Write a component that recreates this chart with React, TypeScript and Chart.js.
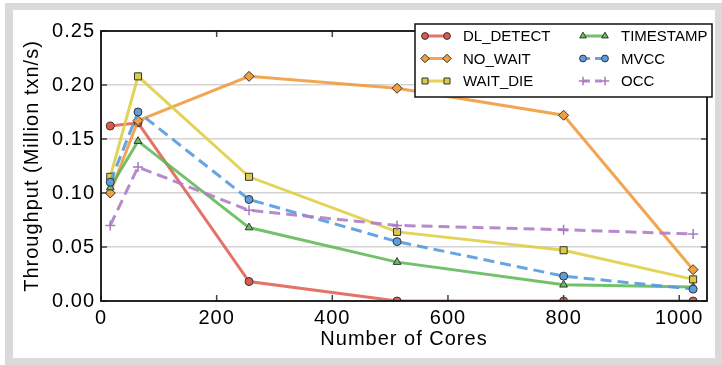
import React, { useEffect, useRef } from 'react';
import { Chart, registerables } from 'chart.js';

Chart.register(...registerables);

// ---- data ----
const cores = [16, 64, 256, 512, 800, 1024];
const dlDetect = [0.162, 0.165, 0.018, 0.0, 0.0, 0.0];
const noWait = [0.100, 0.167, 0.208, 0.197, 0.172, 0.029];
const waitDie = [0.115, 0.208, 0.115, 0.064, 0.047, 0.020];
const timestamp = [0.105, 0.148, 0.068, 0.036, 0.015, 0.013];
const mvcc = [0.110, 0.175, 0.094, 0.055, 0.023, 0.011];
const occ = [0.070, 0.124, 0.084, 0.070, 0.066, 0.062];
const xTicks = [0, 200, 400, 600, 800, 1000];
const yTicks = [0, 0.05, 0.1, 0.15, 0.2, 0.25];
const xTitle = 'Number of Cores';
const yTitle = 'Throughput (Million txn/s)';

const series = [
  { label: 'DL_DETECT', data: dlDetect, line: 'rgba(224,80,68,0.8)', fill: '#e0584c', style: 'circle', r: 4, dash: [] as number[] },
  { label: 'NO_WAIT', data: noWait, line: 'rgba(240,150,50,0.85)', fill: '#f0a040', style: 'rectRot', r: 5, dash: [] as number[] },
  { label: 'WAIT_DIE', data: waitDie, line: 'rgba(222,204,60,0.85)', fill: '#dccb48', style: 'rect', r: 5, dash: [] as number[] },
  { label: 'TIMESTAMP', data: timestamp, line: 'rgba(92,182,82,0.85)', fill: '#6cbf5c', style: 'triangle', r: 4.5, dash: [] as number[] },
  { label: 'MVCC', data: mvcc, line: 'rgba(85,155,222,0.9)', fill: '#5b9ee0', style: 'circle', r: 4, dash: [11, 6] },
  { label: 'OCC', data: occ, line: 'rgba(175,125,198,0.9)', fill: '#a878c0', style: 'cross', r: 5, dash: [11, 6] },
];

function drawMarker(ctx: CanvasRenderingContext2D, style: string, x: number, y: number, r: number, fill: string, stroke: string) {
  ctx.save();
  ctx.setLineDash([]);
  ctx.beginPath();
  if (style === 'circle') {
    ctx.arc(x, y, r, 0, Math.PI * 2);
  } else if (style === 'rect') {
    const s = Math.SQRT1_2 * r;
    ctx.rect(x - s, y - s, 2 * s, 2 * s);
  } else if (style === 'rectRot') {
    ctx.moveTo(x, y - r);
    ctx.lineTo(x + r, y);
    ctx.lineTo(x, y + r);
    ctx.lineTo(x - r, y);
    ctx.closePath();
  } else if (style === 'triangle') {
    const h = r * 1.5;
    ctx.moveTo(x, y - r);
    ctx.lineTo(x + r * 0.866, y + r * 0.5);
    ctx.lineTo(x - r * 0.866, y + r * 0.5);
    ctx.closePath();
  } else if (style === 'cross') {
    ctx.moveTo(x - r, y);
    ctx.lineTo(x + r, y);
    ctx.moveTo(x, y - r);
    ctx.lineTo(x, y + r);
    ctx.strokeStyle = fill;
    ctx.lineWidth = 1.5;
    ctx.stroke();
    ctx.restore();
    return;
  }
  ctx.fillStyle = fill;
  ctx.fill();
  ctx.strokeStyle = stroke;
  ctx.lineWidth = 1;
  ctx.stroke();
  ctx.restore();
}

const FONT = '"Liberation Sans", Arial, Helvetica, sans-serif';

const framePlugin = {
  id: 'frameTicks',
  beforeDraw(chart: any) {
    (chart.ctx as any).letterSpacing = '1px';
  },
  afterDatasetsDraw(chart: any) {
    const { ctx, chartArea: ca, scales } = chart;
    ctx.save();
    (ctx as any).letterSpacing = '0px';
    ctx.setLineDash([]);
    ctx.strokeStyle = '#444';
    ctx.lineWidth = 1.5;
    ctx.beginPath();
    xTicks.forEach((v) => {
      const px = scales.x.getPixelForValue(v);
      ctx.moveTo(px, ca.bottom);
      ctx.lineTo(px, ca.bottom - 6);
      ctx.moveTo(px, ca.top);
      ctx.lineTo(px, ca.top + 6);
    });
    yTicks.forEach((v) => {
      const py = scales.y.getPixelForValue(v);
      ctx.moveTo(ca.left, py);
      ctx.lineTo(ca.left + 6, py);
      ctx.moveTo(ca.right, py);
      ctx.lineTo(ca.right - 6, py);
    });
    ctx.stroke();
    ctx.strokeStyle = '#111';
    ctx.lineWidth = 1.8;
    ctx.strokeRect(ca.left, ca.top, ca.right - ca.left, ca.bottom - ca.top);
    ctx.restore();
  },
  afterDraw(chart: any) {
    const { ctx, chartArea: ca } = chart;
    ctx.save();
    (ctx as any).letterSpacing = '0px';
    const left = ca.right - 292;
    const top = ca.top - 7;
    const right = ca.right + 5;
    const bottom = ca.top + 66;
    ctx.fillStyle = '#fff';
    ctx.fillRect(left, top, right - left, bottom - top);
    ctx.strokeStyle = '#111';
    ctx.lineWidth = 1.5;
    ctx.strokeRect(left, top, right - left, bottom - top);
    series.forEach((s, i) => {
      const col = Math.floor(i / 3);
      const row = i % 3;
      const y = top + 12 + row * 22.5;
      const x0 = left + 10 + col * 158;
      ctx.save();
      ctx.strokeStyle = s.line;
      ctx.lineWidth = 3;
      ctx.setLineDash(s.dash.length ? [7, 5] : []);
      ctx.beginPath();
      ctx.moveTo(x0, y);
      ctx.lineTo(x0 + 22, y);
      ctx.stroke();
      ctx.restore();
      drawMarker(ctx, s.style, x0, y, s.r * 0.85, s.fill, '#333');
      drawMarker(ctx, s.style, x0 + 22, y, s.r * 0.85, s.fill, '#333');
      ctx.fillStyle = '#000';
      ctx.font = `15px ${FONT}`;
      ctx.textBaseline = 'middle';
      ctx.textAlign = 'left';
      ctx.fillText(s.label, x0 + 38, y + 1);
    });
    ctx.restore();
  },
};

export default function App() {
  const ref = useRef<HTMLCanvasElement | null>(null);

  useEffect(() => {
    if (!ref.current) return;
    const chart = new Chart(ref.current, {
      type: 'line',
      data: {
        datasets: series.map((s, i) => ({
          label: s.label,
          data: cores.map((c, j) => ({ x: c, y: s.data[j] })),
          borderColor: s.line,
          backgroundColor: s.fill,
          borderWidth: 3,
          borderDash: s.dash,
          pointStyle: s.style as any,
          pointRadius: s.r,
          pointBorderWidth: s.style === 'cross' ? 1.5 : 1,
          pointBorderColor: s.style === 'cross' ? s.fill : '#333',
          pointBackgroundColor: s.fill,
          tension: 0,
          fill: false,
          order: series.length - i,
        })),
      },
      options: {
        animation: false,
        responsive: false,
        maintainAspectRatio: false,
        layout: { padding: { top: 31, right: 15, bottom: 0, left: 0 } },
        plugins: { legend: { display: false }, tooltip: { enabled: false } },
        scales: {
          x: {
            type: 'linear',
            min: 0,
            max: 1048,
            afterBuildTicks: (scale: any) => {
              scale.ticks = xTicks.map((v) => ({ value: v }));
            },
            afterFit: (scale: any) => {
              scale.height = 64;
            },
            grid: { display: false, drawTicks: false },
            border: { display: false },
            ticks: {
              padding: 5,
              color: '#000',
              font: { family: FONT, size: 20 },
              maxRotation: 0,
              callback: (v: any) => String(v),
            },
            title: {
              display: true,
              text: xTitle,
              color: '#000',
              font: { family: FONT, size: 20 },
              padding: { top: 0, bottom: 14 },
            },
          },
          y: {
            type: 'linear',
            min: 0,
            max: 0.25,
            afterBuildTicks: (scale: any) => {
              scale.ticks = yTicks.map((v) => ({ value: v }));
            },
            afterFit: (scale: any) => {
              scale.width = 101;
            },
            grid: { color: '#d4d4d4', lineWidth: 1.5, drawTicks: false },
            border: { display: false },
            ticks: {
              padding: 6,
              color: '#000',
              font: { family: FONT, size: 20 },
              callback: (v: any) => Number(v).toFixed(2),
            },
            title: {
              display: true,
              text: yTitle,
              color: '#000',
              font: { family: FONT, size: 20 },
              padding: { top: 20, bottom: 0 },
            },
          },
        },
      },
      plugins: [framePlugin],
    });
    return () => chart.destroy();
  }, []);

  return (
    <div style={{ position: 'fixed', left: 0, top: 0, width: 722, height: 365, background: '#fff', overflow: 'hidden' }}>
      <div style={{ position: 'absolute', left: 5, top: 3, width: 717, height: 362, background: '#dadada' }} />
      <div style={{ position: 'absolute', left: 13, top: 10, width: 702, height: 348, background: '#fff' }} />
      <canvas ref={ref} width={722} height={365} style={{ position: 'absolute', left: 0, top: 0, width: 722, height: 365 }} />
    </div>
  );
}
